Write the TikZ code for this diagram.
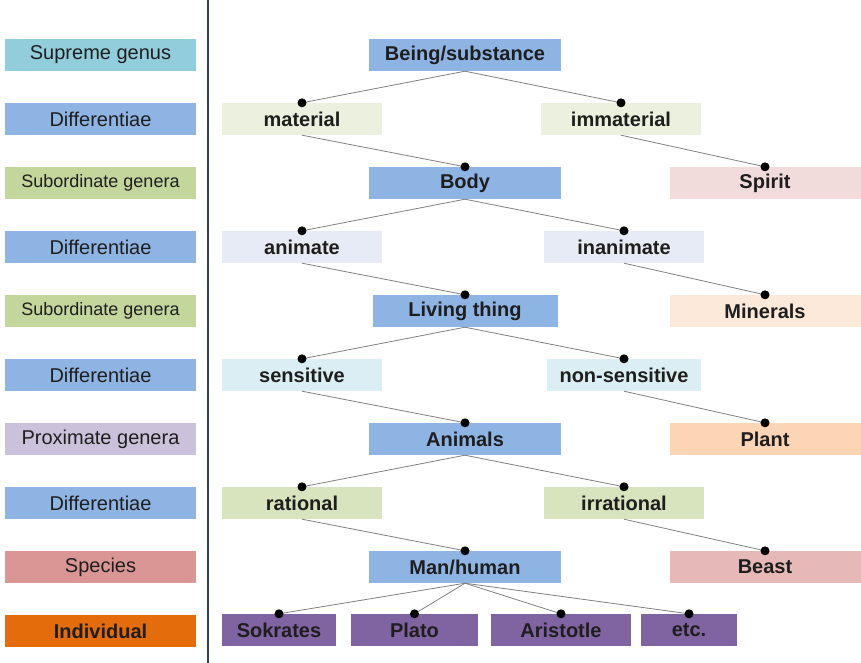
\documentclass[tikz,border=0pt]{standalone}
\usepackage{fontspec}
\setmainfont{Liberation Sans}
\usepackage{tikz}
\usetikzlibrary{positioning}

\definecolor{cSupreme}{RGB}{146,205,220}
\definecolor{cDiff}{RGB}{142,180,227}
\definecolor{cSub}{RGB}{195,214,155}
\definecolor{cProx}{RGB}{204,193,218}
\definecolor{cSpec}{RGB}{217,150,148}
\definecolor{cIndiv}{RGB}{228,108,10}
\definecolor{cPerson}{RGB}{128,100,162}
\definecolor{cMat}{RGB}{235,241,222}
\definecolor{cSpirit}{RGB}{242,220,219}
\definecolor{cAnim}{RGB}{230,235,245}
\definecolor{cMin}{RGB}{253,233,217}
\definecolor{cSens}{RGB}{219,238,244}
\definecolor{cPlant}{RGB}{252,213,181}
\definecolor{cRat}{RGB}{215,228,189}
\definecolor{cBeast}{RGB}{230,185,184}
\definecolor{cRule}{RGB}{47,62,98}
\definecolor{cText}{RGB}{30,30,30}

\tikzset{
  lab/.style={fill=#1,minimum width=191pt,minimum height=32pt,inner sep=0pt,
    text=cText,font=\fontsize{20}{24}\selectfont},
  item/.style={fill=#1,minimum height=32pt,inner sep=0pt,
    text=cText,font=\bfseries\fontsize{20}{24}\selectfont},
  link/.style={draw=gray,line width=0.8pt},
}

\begin{document}
\begin{tikzpicture}[x=1pt,y=1pt,node distance=64pt,on grid]
	\useasboundingbox (0,0) rectangle (861,-663);
	% levels on the left
	\node[lab=cSupreme] (l1) at (100.5,-55) {Supreme genus};
	\node[lab=cDiff] (l2) [below=of l1] {Differentiae};
	\node[lab=cSub,font=\fontsize{18}{22}\selectfont] (l3) [below=of l2] {Subordinate genera};
	\node[lab=cDiff] (l4) [below=of l3] {Differentiae};
	\node[lab=cSub,font=\fontsize{18}{22}\selectfont] (l5) [below=of l4] {Subordinate genera};
	\node[lab=cDiff] (l6) [below=of l5] {Differentiae};
	\node[lab=cProx] (l7) [below=of l6] {Proximate genera};
	\node[lab=cDiff] (l8) [below=of l7] {Differentiae};
	\node[lab=cSpec] (l9) [below=of l8] {Species};
	\node[lab=cIndiv,font=\bfseries\fontsize{20}{24}\selectfont] (l10) [below=of l9] {Individual};
	\draw[cRule,line width=2pt] (208,0) -- (208,-663);

	% the tree
	\node[item=cDiff,minimum width=192pt] (be) at (465,-55) {Being/substance};
	\node[item=cMat,minimum width=160pt] (ma) at (302,-119) {material};
	\node[item=cMat,minimum width=160pt] (im) at (621,-119) {immaterial};
	\node[item=cDiff,minimum width=192pt] (bo) at (465,-183) {Body};
	\node[item=cSpirit,minimum width=191pt] (sp) at (765,-183) {Spirit};
	\node[item=cAnim,minimum width=160pt] (an) at (302,-247) {animate};
	\node[item=cAnim,minimum width=160pt] (in) at (624,-247) {inanimate};
	\node[item=cDiff,minimum width=185pt] (li) at (465,-311) {Living thing};
	\node[item=cMin,minimum width=191pt] (mi) at (765,-311) {Minerals};
	\node[item=cSens,minimum width=160pt] (se) at (302,-375) {sensitive};
	\node[item=cSens,minimum width=154pt] (ns) at (624,-375) {non-sensitive};
	\node[item=cDiff,minimum width=192pt] (am) at (465,-439) {Animals};
	\node[item=cPlant,minimum width=191pt] (pl) at (765,-439) {Plant};
	\node[item=cRat,minimum width=160pt] (ra) at (302,-503) {rational};
	\node[item=cRat,minimum width=160pt] (ir) at (624,-503) {irrational};
	\node[item=cDiff,minimum width=192pt] (mh) at (465,-567) {Man/human};
	\node[item=cBeast,minimum width=191pt] (bs) at (765,-567) {Beast};
	\node[item=cPerson,minimum width=114pt] (so) at (279,-630) {Sokrates};
	\node[item=cPerson,minimum width=127pt] (pt) at (414.5,-630) {Plato};
	\node[item=cPerson,minimum width=140pt] (ar) at (561,-630) {Aristotle};
	\node[item=cPerson,minimum width=96pt] (et) at (689,-630) {etc.};

	\foreach \a/\b in {be/ma,be/im,ma/bo,im/sp,bo/an,bo/in,an/li,in/mi,
		li/se,li/ns,se/am,ns/pl,am/ra,am/ir,ra/mh,ir/bs,
		mh/so,mh/pt,mh/ar,mh/et}
	{
		\draw[link] (\a.south) -- (\b.north);
		\fill (\b.north) circle (4.5pt);
	}
\end{tikzpicture}
\end{document}
